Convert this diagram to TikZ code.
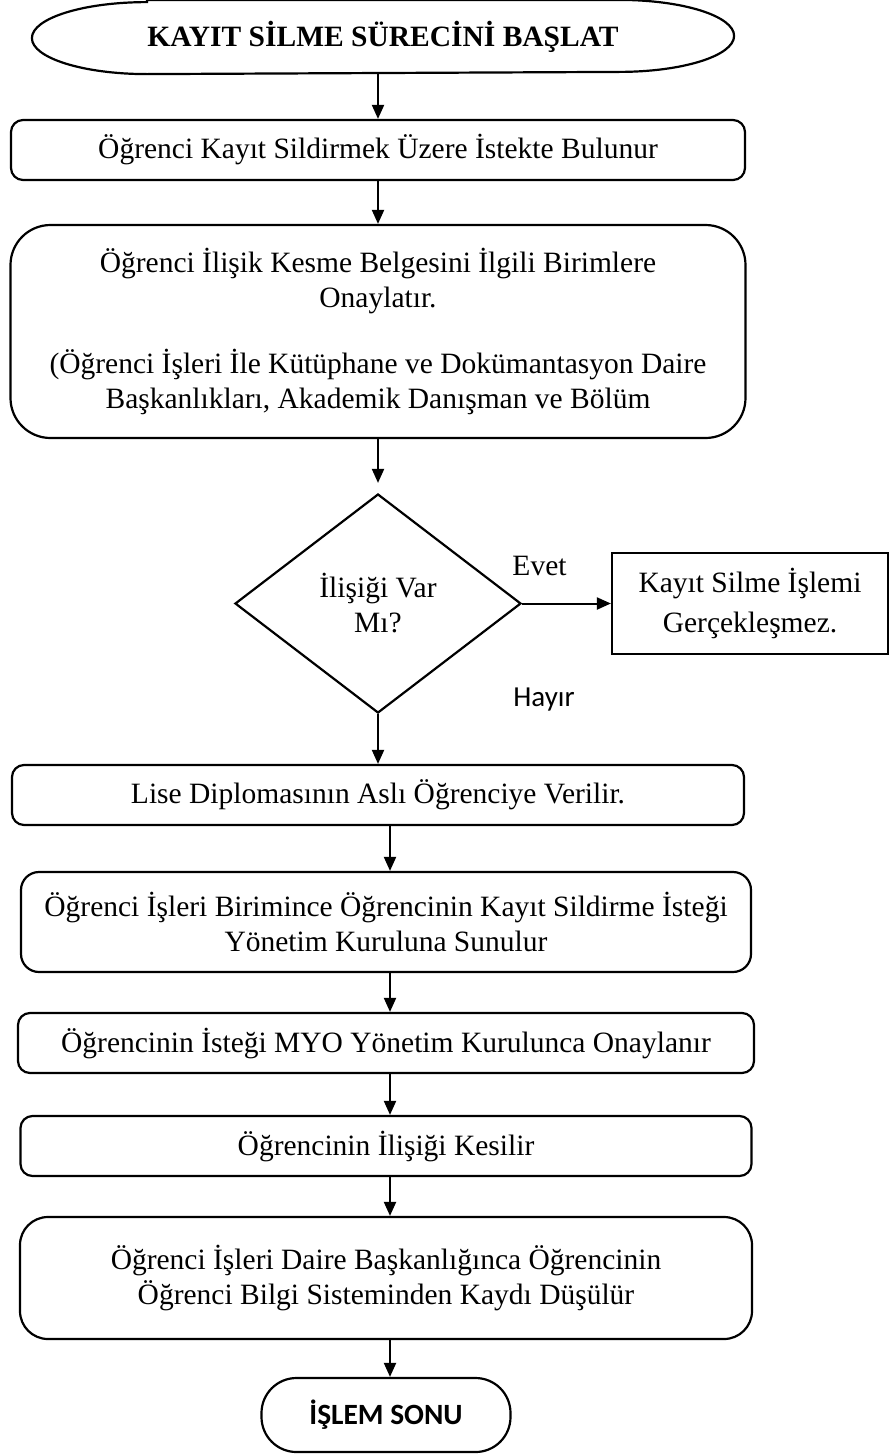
\documentclass[tikz,border=0pt]{standalone}
\usepackage{fontspec}
\setmainfont{Liberation Serif}
\newfontfamily\calibrifont{Carlito}
\usetikzlibrary{shapes.geometric,arrows.meta}

\begin{document}
\begin{tikzpicture}[x=1pt, y=-1pt, line width=2.2pt,
    every node/.style={inner sep=0pt, font=\fontsize{29.5}{35}\selectfont},
    box/.style={draw, rectangle, rounded corners=12pt, minimum width=734pt,
                minimum height=60pt, align=center},
    arr/.style={-{Triangle[length=14pt,width=12pt]}, line width=2pt}]
      \useasboundingbox (0,0) rectangle (893,1454);
      \node[minimum width=700pt, minimum height=72pt,
            font=\fontsize{29.5}{35}\selectfont\bfseries]         (start) at (383,37) {KAYIT SİLME SÜRECİNİ BAŞLAT};
      \node[box, below of=start, node distance=113, xshift=-5]    (istek) {Öğrenci Kayıt Sildirmek Üzere İstekte Bulunur};
      \node[box, below of=istek, node distance=181.5, minimum width=735pt,
            minimum height=213pt, rounded corners=40pt]           (belge) {Öğrenci İlişik Kesme Belgesini İlgili Birimlere\\
                                                                           Onaylatır.\\[31pt]
                                                                           (Öğrenci İşleri İle Kütüphane ve Dokümantasyon Daire\\
                                                                           Başkanlıkları, Akademik Danışman ve Bölüm};
      \node[draw, diamond, below of=belge, node distance=272, align=center,
            minimum width=286pt, minimum height=219pt]            (iliski) {İlişiği Var\\Mı?};
      \node[draw, rectangle, right of=iliski, node distance=372, align=center,
            minimum width=276pt, minimum height=101pt,
            font=\fontsize{29.5}{40}\selectfont]                  (olmaz) {Kayıt Silme İşlemi\\Gerçekleşmez.};
      \node[box, below of=iliski, node distance=191.5, minimum width=732pt] (diploma) {Lise Diplomasının Aslı Öğrenciye Verilir.};
      \node[box, below of=diploma, node distance=127, xshift=8, minimum width=730pt,
            minimum height=100pt, rounded corners=18pt]           (sunum) {Öğrenci İşleri Birimince Öğrencinin Kayıt Sildirme İsteği\\
                                                                           Yönetim Kuruluna Sunulur};
      \node[box, below of=sunum, node distance=121, minimum width=736pt] (onay) {Öğrencinin İsteği MYO Yönetim Kurulunca Onaylanır};
      \node[box, below of=onay, node distance=103, minimum width=731pt]  (kesim) {Öğrencinin İlişiği Kesilir};
      \node[box, below of=kesim, node distance=132, minimum width=732pt,
            minimum height=122pt, rounded corners=28pt]           (obs) {Öğrenci İşleri Daire Başkanlığınca Öğrencinin\\
                                                                         Öğrenci Bilgi Sisteminden Kaydı Düşülür};
      \node[draw, rectangle, below of=obs, node distance=137, minimum width=249pt,
            minimum height=74pt, rounded corners=35pt,
            font=\fontsize{29.4}{35}\selectfont\calibrifont\bfseries] (son) {İŞLEM SONU};
      % outline of the start terminal
      \draw ([xshift=115pt]start.north west) -- ([xshift=-115pt]start.north east)
            arc[start angle=90, end angle=-90, x radius=115pt, y radius=36pt]
            -- ([xshift=115pt]start.south west)
            arc[start angle=270, end angle=90, x radius=115pt, y radius=36pt] -- cycle;
      \coordinate (axis) at (390,0);
      \draw[arr] (start.south -| istek.north) -- (istek.north);
      \draw[arr] (istek.south) -- (belge.north);
      \draw[arr, shorten >=10pt] (belge.south) -- (iliski.north);
      \draw[arr] (iliski.east) to node[midway, xshift=-27pt, yshift=38pt] {Evet} (olmaz.west);
      \draw[arr] (iliski.south) to node[pos=0, xshift=166pt, yshift=15pt,
                                        font=\fontsize{29}{35}\selectfont\calibrifont] {Hayır} (diploma.north);
      \draw[arr] (diploma.south -| axis) -- (sunum.north -| axis);
      \draw[arr] (sunum.south -| axis) -- (onay.north -| axis);
      \draw[arr] (onay.south -| axis) -- (kesim.north -| axis);
      \draw[arr] (kesim.south -| axis) -- (obs.north -| axis);
      \draw[arr] (obs.south -| axis) -- (son.north -| axis);
\end{tikzpicture}
\end{document}
